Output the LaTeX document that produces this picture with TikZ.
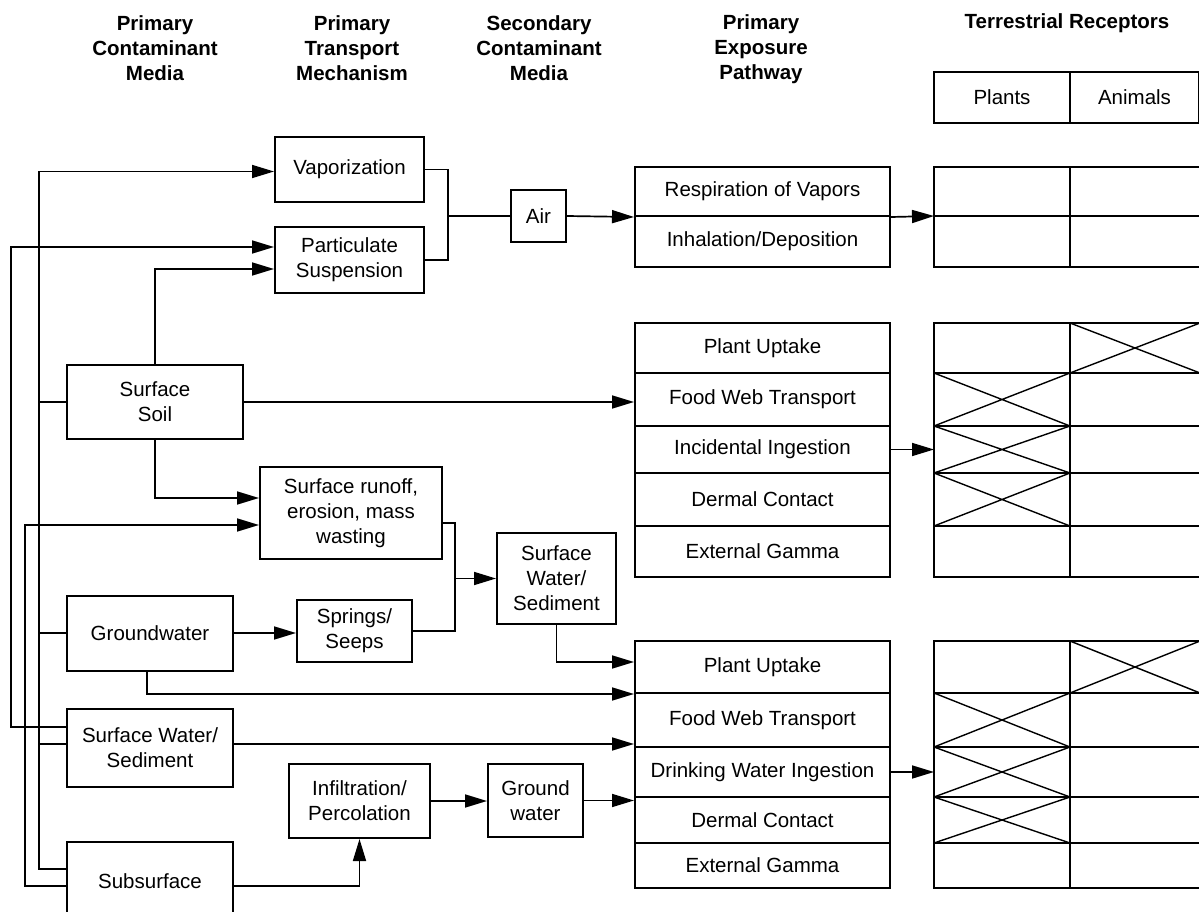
\documentclass[tikz,border=0pt]{standalone}
\usepackage{fontspec}
\setmainfont{Liberation Sans}
\usetikzlibrary{arrows.meta, positioning, calc}

\begin{document}
\begin{tikzpicture}[x=1pt, y=-1pt,
  box/.style={draw, line width=2pt, align=center, inner sep=0pt, font=\fontsize{20.5}{25}\selectfont},
  cell/.style={draw, line width=2pt, inner sep=0pt, outer sep=0pt},
  head/.style={align=center, font=\bfseries\fontsize{20.5}{25}\selectfont},
  line/.style={line width=1.7pt},
  arr/.style={line width=1.7pt, -{Triangle[length=22pt,width=13pt]}}]
\useasboundingbox (0,0) rectangle (1199,912);

% column titles
\node[head] (H1) at (155,48) {Primary\\Contaminant\\Media};
\node[head] (H2) at (352,48) {Primary\\Transport\\Mechanism};
\node[head] (H3) at (539,48) {Secondary\\Contaminant\\Media};
\node[head] (H4) at (761,49) {Primary\\Exposure\\Pathway};
\node[head] (H5) at (1067,23) {Terrestrial Receptors};
\node[box, minimum width=136pt, minimum height=51pt] (hP) at (1002,97.5) {Plants};
\node[box, minimum width=129pt, minimum height=51pt] (hA) at (1134.5,97.5) {Animals};

% primary media
\node[box, minimum width=176pt, minimum height=74pt] (SS) at (155,402) {Surface\\Soil};
\node[box, minimum width=166pt, minimum height=75pt] (GW) at (150,633) {Groundwater};
\node[box, minimum width=166pt, minimum height=78pt] (SWS) at (150,748) {Surface Water/\\Sediment};
\node[box, minimum width=166pt, minimum height=78pt] (SUB) at (150,881) {Subsurface};

% transport
\node[box, minimum width=149pt, minimum height=65pt] (VAP) at (349.5,169.5) {Vaporization};
\node[box, minimum width=149pt, minimum height=66pt] (PS) at (349.5,260) {Particulate\\Suspension};
\node[box, minimum width=182pt, minimum height=92pt] (SRO) at (351,513) {Surface runoff,\\erosion, mass\\wasting};
\node[box, minimum width=115pt, minimum height=62pt] (SPR) at (354.5,631) {Springs/\\Seeps};
\node[box, minimum width=141pt, minimum height=74pt] (INF) at (359.5,801) {Infiltration/\\Percolation};

% secondary media
\node[box, minimum width=55pt, minimum height=52pt] (AIR) at (538.5,216) {Air};
\node[box, minimum width=119pt, minimum height=91pt] (SSW) at (556.5,578.5) {Surface\\Water/\\Sediment};
\node[box, minimum width=95pt, minimum height=73pt] (GRW) at (535.5,800.5) {Ground\\water};

% exposure pathways
\foreach \i/\t/\b/\txt in {1/167/216/Respiration of Vapors, 2/216/267/{Inhalation/Deposition}}
  \node[box, minimum width=255pt, minimum height={(\b-\t)*1pt}] (aE\i) at (762.5,{(\t+\b)/2}) {\txt};
\foreach \i/\t/\b/\txt in {1/323/373/Plant Uptake, 2/373/426/Food Web Transport, 3/426/473/Incidental Ingestion,
    4/473/526/Dermal Contact, 5/526/577/External Gamma}
  \node[box, minimum width=255pt, minimum height={(\b-\t)*1pt}] (sE\i) at (762.5,{(\t+\b)/2}) {\txt};
\foreach \i/\t/\b/\txt in {1/641/693/Plant Uptake, 2/693/747/Food Web Transport, 3/747/797/Drinking Water Ingestion,
    4/797/843/Dermal Contact, 5/843/888/External Gamma}
  \node[box, minimum width=255pt, minimum height={(\b-\t)*1pt}] (wE\i) at (762.5,{(\t+\b)/2}) {\txt};

% receptor grids
\foreach \g/\rows in {a/{1/167/216,2/216/267}, s/{1/323/373,2/373/426,3/426/473,4/473/526,5/526/577},
    w/{1/641/693,2/693/747,3/747/797,4/797/843,5/843/888}}
  \foreach \i/\t/\b in \rows {
    \node[cell, minimum width=136pt, minimum height={(\b-\t)*1pt}] (\g P\i) at (1002,{(\t+\b)/2}) {};
    \node[cell, minimum width=130pt, minimum height={(\b-\t)*1pt}] (\g A\i) at (1135,{(\t+\b)/2}) {};
  }
\foreach \c in {sA1,sP2,sP3,sP4,wA1,wP2,wP3,wP4}
  \draw[line width=1.4pt] (\c.north west) -- (\c.south east) (\c.south west) -- (\c.north east);

% left buses
\draw[arr] ([yshift=12pt]SUB.west) -- ++(-27,0) |- ([yshift=-2pt]VAP.west);
\draw[line] (SS.west) -- ++(-27,0);
\draw[line] (GW.west) -- ++(-27,0);
\draw[line] ([yshift=4pt]SWS.west) -- ++(-27,0);
\draw[arr] ([yshift=21pt]SWS.west) -- ++(-55,0) |- ([yshift=13pt]PS.west);
\draw[arr] ([yshift=-5pt]SUB.west) -- ++(-41,0) |- ([yshift=-12pt]SRO.west);

% soil
\draw[arr] (SS.north) |- ([yshift=-9pt]PS.west);
\draw[arr] (SS.south) |- ([yshift=15pt]SRO.west);
\draw[arr] (SS.east) -- (SS.east -| sE2.west);

% air
\coordinate (jA) at (448,216);
\draw[line] (VAP.east) -| (jA) |- (PS.east);
\draw[line] (jA) -- (AIR.west);
\draw[arr] (AIR.east) -- (aE1.south west);
\draw[arr] (aE1.south east) -- (aP1.south west);

% water
\coordinate (jW) at (455,578.5);
\draw[line] ([yshift=-10pt]SRO.east) -| (jW) |- (SPR.east);
\draw[arr] (jW) -- (SSW.west);
\draw[arr] (GW.east) -- (GW.east -| SPR.west);
\draw[arr] (SSW.south) |- ([yshift=5pt]wE1.west);
\draw[arr] ([xshift=-3pt]GW.south) |- (wE1.south west);
\draw[arr] ([yshift=4pt]SWS.east) -- ([yshift=4pt]SWS.east -| wE2.west);
\draw[arr] ([yshift=-5pt]SUB.east) -| (INF.south);
\draw[arr] (INF.east) -- (INF.east -| GRW.west);
\draw[arr] (GRW.east) -- (GRW.east -| wE4.west);

% to receptors
\draw[arr] (sE3.east) -- (sP3.west);
\draw[arr] (wE3.east) -- (wP3.west);
\end{tikzpicture}
\end{document}
